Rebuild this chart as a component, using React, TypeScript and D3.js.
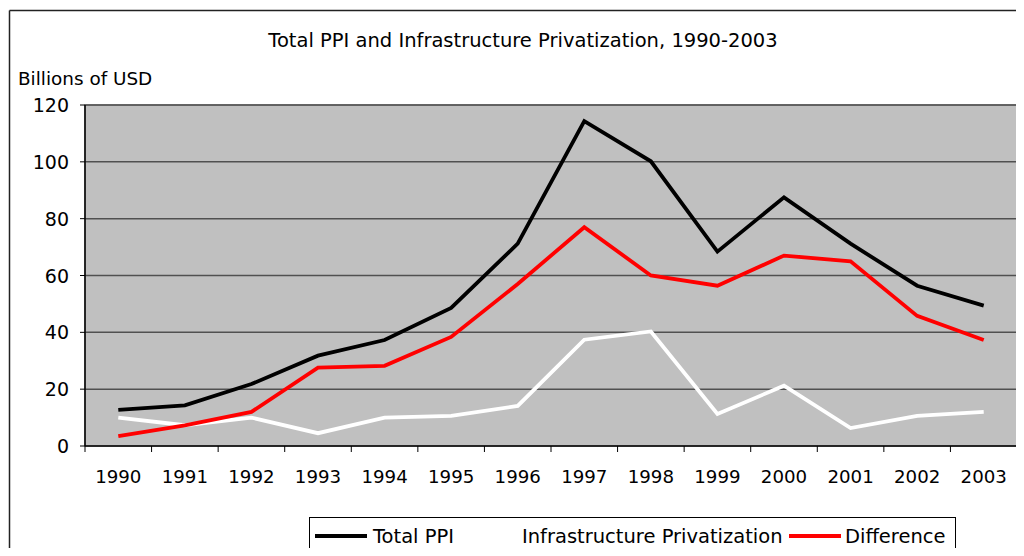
import React from "react";
import * as d3 from "d3";

const years = ["1990","1991","1992","1993","1994","1995","1996","1997","1998","1999","2000","2001","2002","2003"];
const totalPPI = [12.7, 14.3, 21.8, 31.8, 37.3, 48.6, 71.2, 114.3, 100.2, 68.4, 87.5, 71.2, 56.4, 49.4];
const infraPriv = [10.0, 7.3, 10.0, 4.5, 10.0, 10.6, 14.1, 37.4, 40.3, 11.3, 21.2, 6.3, 10.6, 12.0];
const difference = [3.5, 7.3, 12.0, 27.6, 28.2, 38.4, 57.0, 77.0, 60.0, 56.4, 67.0, 65.0, 45.8, 37.3];
const yTicks = [0, 20, 40, 60, 80, 100, 120];

const series = [
  { name: "Total PPI", values: totalPPI, color: "#000000" },
  { name: "Infrastructure Privatization", values: infraPriv, color: "#FFFFFF" },
  { name: "Difference", values: difference, color: "#FF0000" },
];

export default function App() {
  const W = 1024, H = 556;
  const left = 85, right = 1017, top = 105, bottom = 446;
  const font = "'DejaVu Sans', sans-serif";
  const x = d3.scaleBand<string>().domain(years).range([left, right]);
  const y = d3.scaleLinear().domain([0, 120]).range([bottom, top]);
  const line = d3.line<number>().x((_, i) => (x(years[i]) as number) + x.bandwidth() / 2).y(d => y(d));
  const bounds = [...years.map(yr => x(yr) as number), right];
  const order = [1, 2, 0];
  const legendItems = [
    { s: series[0], lx: 315, tx: 373 },
    { s: series[1], lx: 466, tx: 522 },
    { s: series[2], lx: 789, tx: 845 },
  ];
  return (
    <div style={{ margin: -8 }}>
      <svg width={W} height={H} style={{ display: "block", fontFamily: font }}>
        <rect x={0} y={0} width={W} height={H} fill="#fff" />
        <line x1={9.5} x2={W} y1={10.5} y2={10.5} stroke="#222" strokeWidth={1.5} />
        <line x1={9.5} x2={9.5} y1={10.5} y2={H} stroke="#222" strokeWidth={1.5} />
        <text x={523} y={47} textAnchor="middle" fontSize={19.5} fill="#000">Total PPI and Infrastructure Privatization, 1990-2003</text>
        <text x={18} y={85} fontSize={18.4} fill="#000">Billions of USD</text>
        <rect x={left} y={top} width={right - left} height={bottom - top} fill="#C0C0C0" stroke="#808080" strokeWidth={1.5} />
        {yTicks.filter(t => t > 0).map(t => (
          <line key={t} x1={left} x2={right} y1={y(t)} y2={y(t)} stroke="#505050" strokeWidth={1.5} />
        ))}
        <line x1={left} x2={left} y1={top} y2={bottom} stroke="#000" strokeWidth={1.5} />
        <line x1={left} x2={right} y1={bottom} y2={bottom} stroke="#000" strokeWidth={1.5} />
        {yTicks.map(t => (
          <g key={t}>
            <line x1={left - 5} x2={left} y1={y(t)} y2={y(t)} stroke="#000" strokeWidth={1} />
            <text x={69} y={y(t) + 7} textAnchor="end" fontSize={19} fill="#000">{t}</text>
          </g>
        ))}
        {bounds.map((b, i) => (
          <line key={i} x1={b} x2={b} y1={bottom} y2={bottom + 6} stroke="#000" strokeWidth={1} />
        ))}
        {years.map(yr => (
          <text key={yr} x={(x(yr) as number) + x.bandwidth() / 2} y={483} textAnchor="middle" fontSize={18.2} fill="#000">{yr}</text>
        ))}
        {order.map(i => (
          <path key={series[i].name} d={line(series[i].values) as string} fill="none" stroke={series[i].color} strokeWidth={3.8} strokeLinejoin="miter" />
        ))}
        <rect x={309.5} y={517.5} width={646} height={36} fill="#fff" stroke="#000" strokeWidth={1} />
        {legendItems.map(it => (
          <g key={it.s.name}>
            <line x1={it.lx} x2={it.lx + 52} y1={536} y2={536} stroke={it.s.color} strokeWidth={4} />
            <text x={it.tx} y={543} fontSize={19.5} fill="#000">{it.s.name}</text>
          </g>
        ))}
      </svg>
    </div>
  );
}
